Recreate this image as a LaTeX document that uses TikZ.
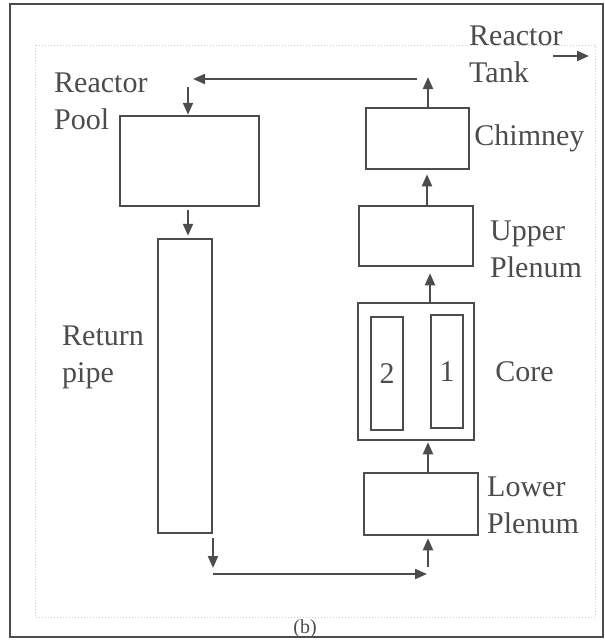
\documentclass[tikz,border=0pt]{standalone}
\usepackage{fontspec}
\setmainfont{Liberation Serif}
\usepackage{tikz}
\usetikzlibrary{arrows.meta, positioning}
\definecolor{ink}{gray}{0.3}
\tikzstyle{block} = [rectangle, draw=ink, line width=2.5pt, inner sep=0pt]
\tikzstyle{rod}   = [block, minimum width=32pt, minimum height=113pt, text=ink, font=\fontsize{30}{36}\selectfont]
\tikzstyle{txt}   = [text=ink, inner sep=0pt, align=left, font=\fontsize{30}{37}\selectfont]
\tikzstyle{arrow} = [draw=ink, line width=2pt, -{Triangle[length=12pt, width=10pt]}]

\begin{document}
\begin{tikzpicture}[x=1pt, y=-1pt]
  \useasboundingbox (0,0) rectangle (605,640);

  % Frame
  \draw[ink, line width=2.5pt] (10,4) rectangle (603,637);
  \draw[gray!40, dotted, line width=1pt] (35,45) rectangle (595,617);

  % Left side - pool and return pipe
  \node[block, minimum width=139pt, minimum height=90pt] (pool) at (189.5,161) {};
  \node[block, minimum width=54pt, minimum height=294pt] (pipe) at (185,386) {};

  % Right side - chimney, plena and core
  \node[block, minimum width=103pt, minimum height=61pt] (chimney) at (417.5,138.5) {};
  \node[block, minimum width=114pt, minimum height=60pt] (upper) at (416,236) {};
  \node[block, minimum width=116pt, minimum height=137pt] (core) at (416,371.5) {};
  \node[rod] (rod2) at (387,373.5) {2};
  \node[rod] (rod1) at (447,371.5) {1};
  \node[block, minimum width=114pt, minimum height=62pt] (lower) at (421,504) {};

  % Labels
  \node[txt, anchor=west] (tank) at (469,54) {Reactor\\Tank};
  \node[txt, anchor=west] (poollbl) at (54,101) {Reactor\\Pool};
  \node[txt, anchor=west] (pipelbl) at (62,357) {Return\\pipe};
  \node[txt, right=4pt of chimney] (chimneylbl) {Chimney};
  \node[txt, anchor=west] (upperlbl) at (490,249) {Upper\\Plenum};
  \node[txt, right=20pt of core] (corelbl) {Core};
  \node[txt, anchor=west] (lowerlbl) at (487,505) {Lower\\Plenum};
  \node[txt, font=\fontsize{20}{24}\selectfont] (cap) at (305,629) {(b)};

  % Arrows
  \coordinate (tankin) at (553,56);
  \coordinate (tankout) at (589,56);
  \coordinate (outtop) at (428,77);
  \coordinate (retR) at (417,79);
  \coordinate (retL) at (193,79);
  \coordinate (poolin) at (188,87);
  \coordinate (pipeout) at (213,568);
  \coordinate (botL) at (213,574);
  \coordinate (botR) at (427,574);
  \coordinate (lowin) at (428,567);
  \coordinate (coreup) at (430,0);
  \coordinate (upperup) at (427,0);

  \draw[arrow] (tankin) -- (tankout);
  \draw[arrow] (chimney.north -| outtop) -- (outtop);
  \draw[arrow] (retR) -- (retL);
  \draw[arrow] (poolin) -- (pool.north -| poolin);
  \draw[arrow, shorten <=3pt, shorten >=2pt] (pool.south -| poolin) -- (pipe.north -| poolin);
  \draw[arrow, shorten <=4pt] (pipe.south -| pipeout) -- (pipeout);
  \draw[arrow] (botL) -- (botR);
  \draw[arrow, shorten >=2pt] (lowin) -- (lower.south -| lowin);
  \draw[arrow, shorten >=1pt] (lower.north -| lowin) -- (core.south -| lowin);
  \draw[arrow, shorten >=6pt] (core.north -| coreup) -- (upper.south -| coreup);
  \draw[arrow, shorten >=4pt] (upper.north -| upperup) -- (chimney.south -| upperup);

\end{tikzpicture}
\end{document}
